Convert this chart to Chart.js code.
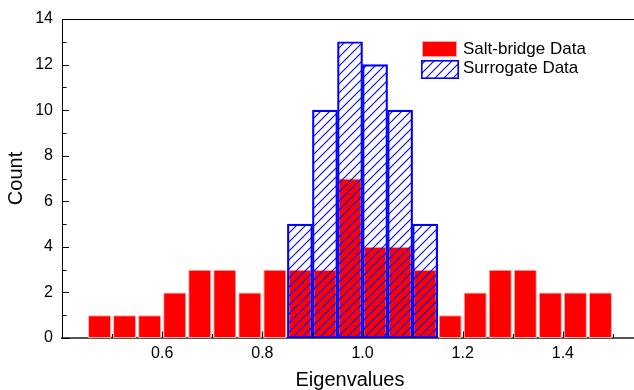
<!DOCTYPE html>
<html><head><meta charset="utf-8">
<script src="https://cdn.jsdelivr.net/npm/chart.js@4"></script>
<style>html,body{margin:0;padding:0;overflow:hidden;background:#fff}
#wrap{width:638px;height:390px;position:relative}</style>
</head><body><div id="wrap"><canvas id="c" width="638" height="390"></canvas></div>
<script>
const redBinCenters = [0.475,0.525,0.575,0.625,0.675,0.725,0.775,0.825,0.875,0.925,0.975,1.025,1.075,1.125,1.175,1.225,1.275,1.325,1.375,1.425,1.475];
const redCounts     = [1,1,1,2,3,3,2,3,3,3,7,4,4,3,1,2,3,3,2,2,2];
const blueBinCenters = [0.875,0.925,0.975,1.025,1.075,1.125];
const blueCounts     = [5,10,13,12,10,5];
const xTickValues = [0.6,0.8,1.0,1.2,1.4];
const xMinorTickValues = [0.5,0.7,0.9,1.1,1.3,1.5];
const yTickValues = [0,2,4,6,8,10,12,14];
const yMinorTickValues = [1,3,5,7,9,11,13];
const seriesNames = ['Salt-bridge Data','Surrogate Data'];
const axisTitles = {x:'Eigenvalues', y:'Count'};

const FONT = "'Liberation Sans', Arial, sans-serif";

function makeHatch(){
  const n = 9;
  const p = document.createElement('canvas');
  p.width = n; p.height = n;
  const g = p.getContext('2d');
  g.strokeStyle = '#0000ff';
  g.lineWidth = 1.1;
  g.beginPath();
  g.moveTo(-1,n+1); g.lineTo(n+1,-1);
  g.moveTo(-1,1); g.lineTo(1,-1);
  g.moveTo(n-1,n+1); g.lineTo(n+1,n-1);
  g.stroke();
  return document.getElementById('c').getContext('2d').createPattern(p,'repeat');
}
const hatch = makeHatch();

const overlay = {
  id:'overlay',
  afterDraw(chart){
    const {ctx, chartArea:a, scales:{x,y}} = chart;
    ctx.save();
    ctx.strokeStyle = '#000'; ctx.lineWidth = 1;
    ctx.beginPath(); ctx.moveTo(a.left, Math.round(a.top)+0.5); ctx.lineTo(a.right, Math.round(a.top)+0.5); ctx.stroke();
    ctx.beginPath();
    yTickValues.forEach(v=>{const py=Math.round(y.getPixelForValue(v))+0.5; ctx.moveTo(a.left,py); ctx.lineTo(a.left+7,py);});
    yMinorTickValues.forEach(v=>{const py=Math.round(y.getPixelForValue(v))+0.5; ctx.moveTo(a.left,py); ctx.lineTo(a.left+4.5,py);});
    xTickValues.forEach(v=>{const px=Math.round(x.getPixelForValue(v))+0.5; ctx.moveTo(px,a.bottom); ctx.lineTo(px,a.bottom-6.5);});
    xMinorTickValues.forEach(v=>{const px=Math.round(x.getPixelForValue(v))+0.5; ctx.moveTo(px,a.bottom); ctx.lineTo(px,a.bottom-4);});
    ctx.stroke();
    // legend
    ctx.fillStyle = '#ff0000';
    ctx.fillRect(422,41,35,16);
    ctx.strokeStyle = 'rgba(255,160,160,1)';
    ctx.strokeRect(422.5,41.5,34,15);
    ctx.fillStyle = hatch;
    ctx.fillRect(422,61,36,17);
    ctx.strokeStyle = '#0000ff'; ctx.lineWidth = 1.6;
    ctx.strokeRect(421.8,60.8,36.4,17.4);
    ctx.fillStyle = '#000';
    ctx.font = '17px ' + FONT;
    ctx.textBaseline = 'middle'; ctx.textAlign = 'left';
    ctx.fillText(seriesNames[0], 463, 49.5);
    ctx.fillText(seriesNames[1], 463, 68.5);
    ctx.restore();
  }
};

new Chart(document.getElementById('c'), {
  type:'bar',
  data:{
    datasets:[
      {label:seriesNames[0], data:redBinCenters.map((c,i)=>({x:c,y:redCounts[i]})),
       backgroundColor:'#ff0000', borderColor:'rgba(255,170,170,1)', borderWidth:1, borderSkipped:false,
       barPercentage:0.92, categoryPercentage:1, grouped:false, order:2},
      {label:seriesNames[1], data:blueBinCenters.map((c,i)=>({x:c,y:blueCounts[i]})),
       backgroundColor:hatch, borderColor:'#0000ff', borderWidth:1.5, borderSkipped:false,
       barPercentage:1, categoryPercentage:1, grouped:false, order:1}
    ]
  },
  options:{
    responsive:false, animation:false, devicePixelRatio:1,
    layout:{padding:{top:19,left:0,right:0,bottom:0}},
    plugins:{legend:{display:false}, tooltip:{enabled:false}},
    scales:{
      x:{type:'linear', min:0.4, max:1.55, offset:false,
         afterBuildTicks:s=>{s.ticks = xTickValues.map(v=>({value:v}));},
         afterFit:s=>{s.height = 52;},
         ticks:{callback:v=>v.toFixed(1), color:'#000', font:{family:FONT,size:16}, padding:6, maxRotation:0, autoSkip:false},
         grid:{display:false, drawTicks:false},
         border:{display:true, color:'#555', width:2},
         title:{display:true, text:axisTitles.x, color:'#000', font:{family:FONT,size:20}, padding:{top:0,bottom:-2}}},
      y:{type:'linear', min:0, max:14,
         afterBuildTicks:s=>{s.ticks = yTickValues.map(v=>({value:v}));},
         afterFit:s=>{s.width = 62;},
         ticks:{callback:v=>String(v), color:'#000', font:{family:FONT,size:16}, padding:9, autoSkip:false},
         grid:{display:false, drawTicks:false},
         border:{display:true, color:'#000', width:1},
         title:{display:true, text:axisTitles.y, color:'#000', font:{family:FONT,size:20}, padding:{top:4,bottom:0}}}
    }
  },
  plugins:[overlay]
});
</script></body></html>
